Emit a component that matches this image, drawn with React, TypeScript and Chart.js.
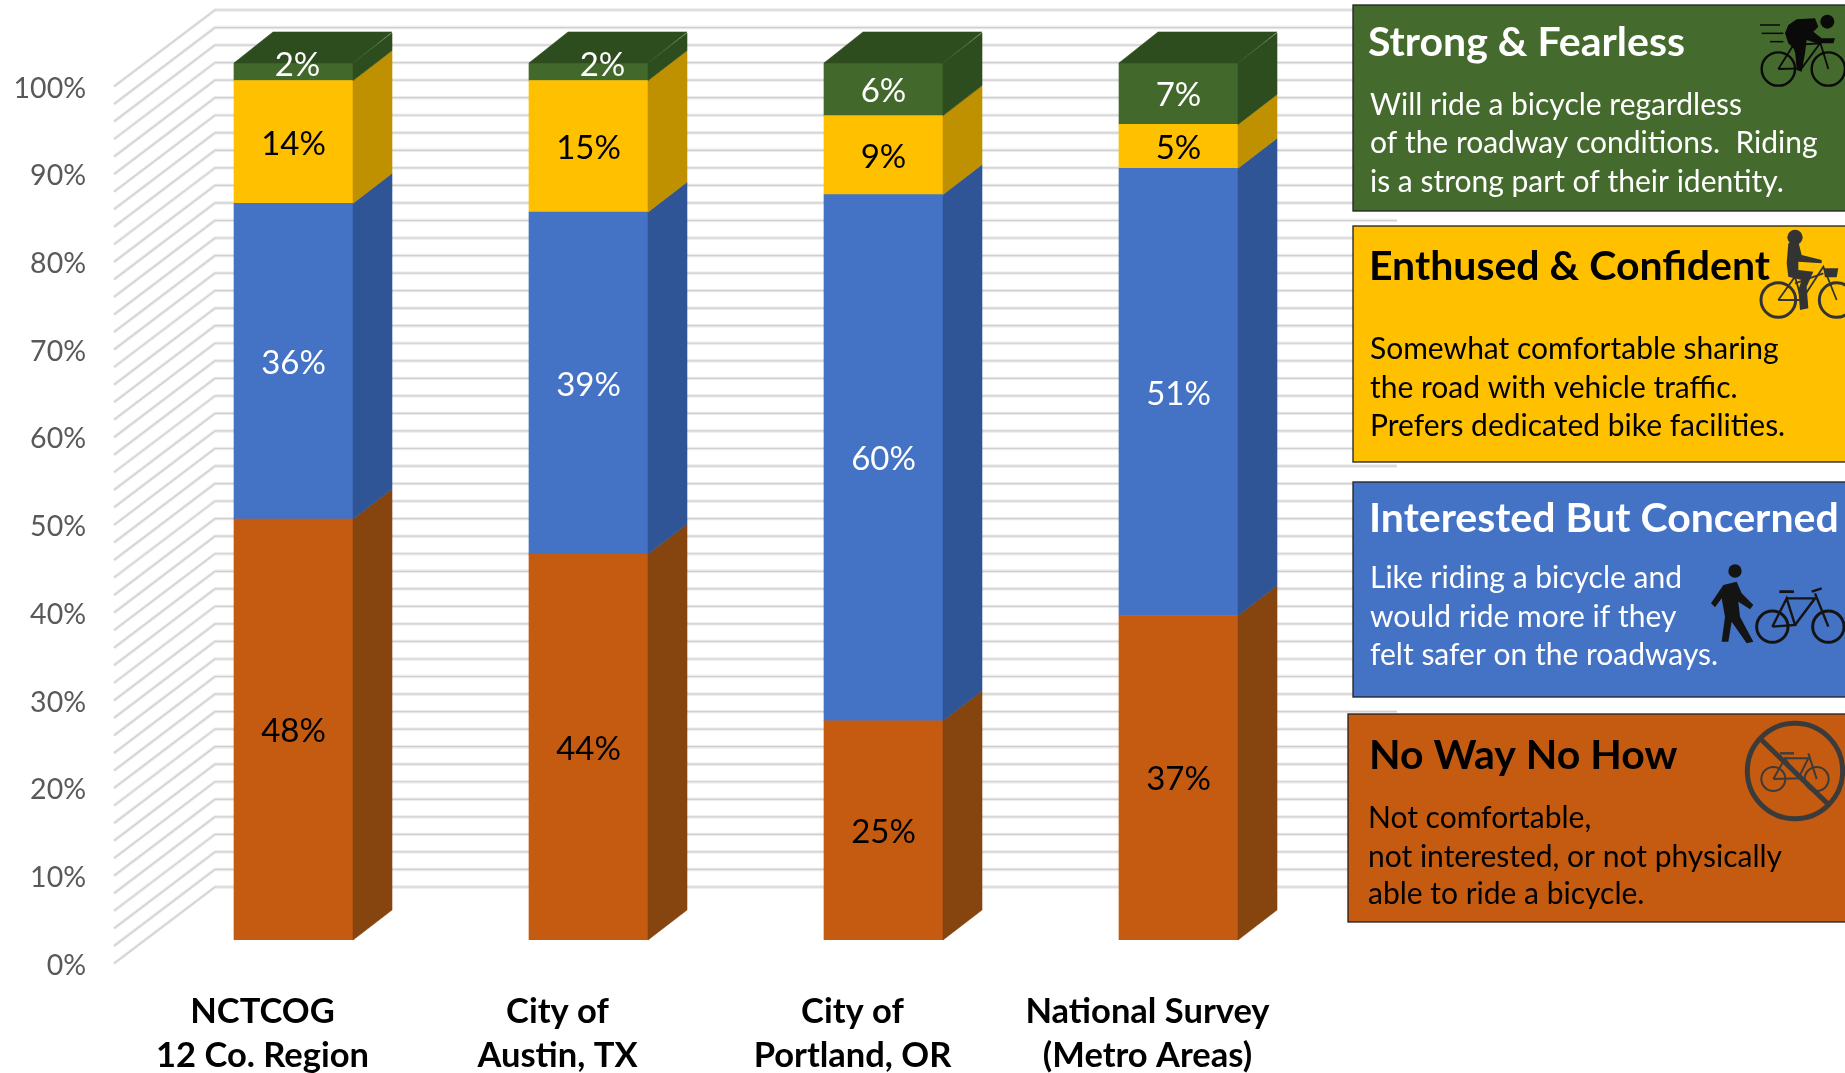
import React, { useEffect, useRef } from "react";
import { Chart, registerables } from "chart.js";

Chart.register(...registerables);

const categories = [["NCTCOG", "12 Co. Region"], ["City of", "Austin, TX"], ["City of", "Portland, OR"], ["National Survey", "(Metro Areas)"]];
const noWayNoHow = [48, 44, 25, 37];
const interestedButConcerned = [36, 39, 60, 51];
const enthusedAndConfident = [14, 15, 9, 5];
const strongAndFearless = [2, 2, 6, 7];
const yTickStep = 10;
const wallGridStep = 2;

const seriesNames = ["No Way No How", "Interested But Concerned", "Enthused & Confident", "Strong & Fearless"];
const frontColors = ["#C55A11", "#4472C4", "#FFC000", "#43682B"];
const sideColors = ["#86440F", "#2F5597", "#BF9000", "#2E4D1F"];
const labelColors = ["#000000", "#FFFFFF", "#000000", "#FFFFFF"];
const topColor = "#2E4D1F";

const FONT = "Lato";
const DX = 39;
const DY = 30;

const panels = [
  { fill: "#456A2D", x: 1353, top: 5, bottom: 211, color: "#FFFFFF", title: "Strong & Fearless", tx: 1368, ty: 56,
    lines: ["Will ride a bicycle regardless", "of the roadway conditions.  Riding", "is a strong part of their identity."], bx: 1370, by: [115, 153, 192] },
  { fill: "#FFC000", x: 1353, top: 226, bottom: 462, color: "#000000", title: "Enthused & Confident", tx: 1369, ty: 280,
    lines: ["Somewhat comfortable sharing", "the road with vehicle traffic.", "Prefers dedicated bike facilities."], bx: 1370, by: [359, 398, 436] },
  { fill: "#4472C4", x: 1353, top: 482, bottom: 697, color: "#FFFFFF", title: "Interested But Concerned", tx: 1369, ty: 532,
    lines: ["Like riding a bicycle and", "would ride more if they", "felt safer on the roadways."], bx: 1370, by: [588, 627, 665] },
  { fill: "#C55A11", x: 1348, top: 714, bottom: 922, color: "#000000", title: "No Way No How", tx: 1369, ty: 769,
    lines: ["Not comfortable,", "not interested, or not physically", "able to ride a bicycle."], bx: 1368, by: [828, 867, 904] },
];

type Pt = [number, number];

function App() {
  const ref = useRef<HTMLCanvasElement | null>(null);
  useEffect(() => {
    const canvas = ref.current!;
    const wallsPlugin = {
      id: "walls",
      beforeDatasetsDraw(chart: any) {
        const { ctx } = chart;
        const y = chart.scales.y;
        const backLift = 53;
        for (let v = 0; v <= 100; v += wallGridStep) {
          const p = y.getPixelForValue(v);
          const path = () => {
            ctx.beginPath();
            ctx.moveTo(114, p + 23.5);
            ctx.lineTo(215, p - backLift);
            ctx.lineTo(1397, p - backLift);
          };
          ctx.save();
          ctx.lineJoin = "round";
          ctx.strokeStyle = "#ECECEC";
          ctx.lineWidth = 3.4;
          path();
          ctx.stroke();
          ctx.strokeStyle = "#CFCFCF";
          ctx.lineWidth = 1.2;
          path();
          ctx.stroke();
          ctx.restore();
        }
      },
    };
    const facesPlugin = {
      id: "faces",
      afterDatasetsDraw(chart: any) {
        const { ctx } = chart;
        const quad = (pts: Pt[], fill: string) => {
          ctx.beginPath();
          pts.forEach((q, i) => (i ? ctx.lineTo(q[0], q[1]) : ctx.moveTo(q[0], q[1])));
          ctx.closePath();
          ctx.fillStyle = fill;
          ctx.strokeStyle = fill;
          ctx.lineWidth = 0.6;
          ctx.fill();
          ctx.stroke();
        };
        chart.data.datasets.forEach((ds: any, di: number) => {
          chart.getDatasetMeta(di).data.forEach((bar: any, i: number) => {
            const r = bar.x + bar.width / 2;
            const l = bar.x - bar.width / 2;
            quad([[r, bar.y], [r + DX, bar.y - DY], [r + DX, bar.base - DY], [r, bar.base]], sideColors[di]);
            if (di === chart.data.datasets.length - 1) {
              quad([[l, bar.y], [l + DX, bar.y - DY - 1], [r + DX, bar.y - DY - 1], [r, bar.y]], topColor);
            }
          });
        });
        ctx.save();
        ctx.font = `33px ${FONT}`;
        ctx.textAlign = "center";
        ctx.textBaseline = "middle";
        chart.data.datasets.forEach((ds: any, di: number) => {
          chart.getDatasetMeta(di).data.forEach((bar: any, i: number) => {
            const v = ds.data[i];
            let dx = 0;
            let dy = 2;
            if (di === 3 && v === 2) {
              dy = -6;
              dx = i === 0 ? 4 : 14;
            }
            ctx.fillStyle = labelColors[di];
            ctx.fillText(`${v}%`, bar.x + dx, (bar.y + bar.base) / 2 + dy);
          });
        });
        ctx.restore();
      },
    };
    const panelPlugin = {
      id: "panels",
      afterDraw(chart: any) {
        const { ctx } = chart;
        ctx.save();
        panels.forEach((p) => {
          ctx.fillStyle = p.fill;
          ctx.fillRect(p.x, p.top, 1845 - p.x + 2, p.bottom - p.top);
          ctx.strokeStyle = "#1F1F1F";
          ctx.lineWidth = 1.3;
          ctx.strokeRect(p.x, p.top, 1845 - p.x + 4, p.bottom - p.top);
          ctx.fillStyle = p.color;
          ctx.textAlign = "left";
          ctx.textBaseline = "alphabetic";
          ctx.font = `bold 41px ${FONT}`;
          ctx.fillText(p.title, p.tx, p.ty);
          ctx.font = `30px ${FONT}`;
          p.lines.forEach((t, i) => ctx.fillText(t, p.bx, p.by[i]));
        });
        const X = (z: number) => 1340 + z / 3;
        const Y1 = (z: number) => z / 3;
        const Y2 = (z: number) => 470 + z / 3;
        const seg = (pts: Pt[], Y: (z: number) => number, color: string, lw: number) => {
          ctx.beginPath();
          pts.forEach((q, i) => (i ? ctx.lineTo(X(q[0]), Y(q[1])) : ctx.moveTo(X(q[0]), Y(q[1]))));
          ctx.strokeStyle = color;
          ctx.lineWidth = lw;
          ctx.stroke();
        };
        const poly = (pts: Pt[], Y: (z: number) => number, color: string) => {
          ctx.beginPath();
          pts.forEach((q, i) => (i ? ctx.lineTo(X(q[0]), Y(q[1])) : ctx.moveTo(X(q[0]), Y(q[1]))));
          ctx.closePath();
          ctx.fillStyle = color;
          ctx.fill();
        };
        const circ = (cx: number, cy: number, r: number, Y: (z: number) => number, color: string, lw: number, fill = false) => {
          ctx.beginPath();
          ctx.arc(X(cx), Y(cy), r / 3, 0, Math.PI * 2);
          if (fill) {
            ctx.fillStyle = color;
            ctx.fill();
          } else {
            ctx.strokeStyle = color;
            ctx.lineWidth = lw;
            ctx.stroke();
          }
        };
        // Strong & Fearless rider
        const k = "#0A0A0A";
        circ(1315, 207, 50, Y1, k, 2.4);
        circ(1465, 207, 50, Y1, k, 2.4);
        circ(1462, 65, 21, Y1, k, 0, true);
        seg([[1315, 207], [1385, 205], [1440, 130], [1360, 135], [1315, 207]], Y1, k, 1.8);
        seg([[1360, 135], [1385, 205]], Y1, k, 1.8);
        seg([[1440, 125], [1465, 207]], Y1, k, 1.8);
        poly([[1335, 100], [1345, 75], [1370, 58], [1425, 55], [1435, 80], [1420, 95], [1445, 115], [1485, 115], [1480, 130], [1430, 130], [1400, 120], [1395, 160], [1385, 215], [1370, 210], [1365, 150], [1345, 130]], Y1, k);
        seg([[1260, 75], [1320, 75]], Y1, k, 1.5);
        seg([[1265, 100], [1330, 100]], Y1, k, 1.5);
        seg([[1290, 125], [1330, 125]], Y1, k, 1.5);
        // Enthused & Confident rider
        const g = "#333333";
        circ(1315, 900, 52, Y1, g, 3);
        circ(1490, 900, 52, Y1, g, 3);
        circ(1365, 712, 23, Y1, g, 0, true);
        seg([[1315, 900], [1385, 900], [1450, 800], [1490, 900]], Y1, g, 1.8);
        seg([[1315, 900], [1365, 830], [1385, 900]], Y1, g, 1.8);
        seg([[1365, 850], [1450, 820]], Y1, g, 1.8);
        poly([[1450, 805], [1495, 805], [1490, 832], [1455, 832]], Y1, g);
        poly([[1345, 730], [1375, 725], [1385, 765], [1445, 780], [1445, 790], [1375, 785], [1375, 810], [1420, 815], [1400, 860], [1405, 925], [1380, 930], [1375, 870], [1385, 840], [1345, 830], [1340, 790]], Y1, g);
        // Interested But Concerned pedestrian and bicycle
        const b = "#141414";
        circ(1185, 303, 20, Y2, b, 0, true);
        poly([[1150, 345], [1190, 335], [1205, 370], [1240, 405], [1230, 418], [1195, 395], [1200, 440], [1240, 515], [1220, 520], [1175, 455], [1165, 515], [1145, 515], [1155, 440], [1145, 385], [1125, 412], [1113, 400]], Y2, b);
        circ(1297, 470, 47, Y2, b, 3);
        circ(1465, 470, 47, Y2, b, 3);
        seg([[1297, 470], [1340, 385], [1365, 465], [1297, 470]], Y2, b, 2.4);
        seg([[1340, 385], [1425, 385], [1365, 465]], Y2, b, 2.4);
        seg([[1425, 370], [1465, 470]], Y2, b, 2.4);
        seg([[1415, 365], [1445, 355]], Y2, b, 2.4);
        seg([[1318, 365], [1362, 365]], Y2, b, 2.8);
        // No Way No How sign
        const s = "#3B3B3B";
        circ(1300, 927, 36, Y2, s, 2);
        circ(1430, 927, 36, Y2, s, 2);
        seg([[1300, 927], [1335, 865], [1375, 925], [1300, 927]], Y2, s, 2);
        seg([[1335, 865], [1405, 865], [1375, 925]], Y2, s, 2);
        seg([[1405, 850], [1430, 927]], Y2, s, 2);
        seg([[1320, 850], [1362, 850]], Y2, s, 2.4);
        circ(1365, 903, 143, Y2, s, 5);
        seg([[1265, 810], [1462, 1000]], Y2, s, 5);
        ctx.restore();
      },
    };
    const rows = [noWayNoHow, interestedButConcerned, enthusedAndConfident, strongAndFearless];
    const chart = new Chart(canvas, {
      type: "bar",
      data: {
        labels: categories as any,
        datasets: rows.map((data, i) => ({
          label: seriesNames[i],
          data,
          backgroundColor: frontColors[i],
          borderWidth: 0,
          barThickness: 119,
        })),
      },
      options: {
        animation: false,
        responsive: false,
        devicePixelRatio: 1,
        layout: { autoPadding: false, padding: { top: 63, right: 519, left: 0, bottom: 0 } },
        plugins: { legend: { display: false }, title: { display: false }, tooltip: { enabled: false } },
        scales: {
          x: {
            stacked: true,
            grid: { display: false },
            border: { display: false },
            afterFit(scale: any) {
              scale.height = 133;
              scale.paddingLeft = 0;
              scale.paddingRight = 0;
            },
            ticks: {
              color: "#000000",
              font: { family: FONT, size: 34.5, weight: "bold", lineHeight: 1.3 },
              padding: 41,
              labelOffset: -31,
              maxRotation: 0,
              minRotation: 0,
              autoSkip: false,
            },
          },
          y: {
            stacked: true,
            min: 0,
            max: 100,
            grid: { display: false },
            border: { display: false },
            afterFit(scale: any) {
              scale.width = 146;
              scale.paddingTop = 0;
              scale.paddingBottom = 0;
            },
            ticks: {
              stepSize: yTickStep,
              color: "#595959",
              font: { family: FONT, size: 28.5 },
              padding: 52,
              labelOffset: 25.5,
              callback: (v: any) => `${v}%`,
            },
          },
        },
      } as any,
      plugins: [wallsPlugin, facesPlugin, panelPlugin],
    });
    return () => chart.destroy();
  }, []);
  return (
    <div style={{ position: "absolute", left: 0, top: 0, width: 1845, height: 1073, overflow: "hidden", background: "#fff" }}>
      <canvas ref={ref} width={1845} height={1073} style={{ display: "block", width: 1845, height: 1073 }} />
    </div>
  );
}

export default App;
